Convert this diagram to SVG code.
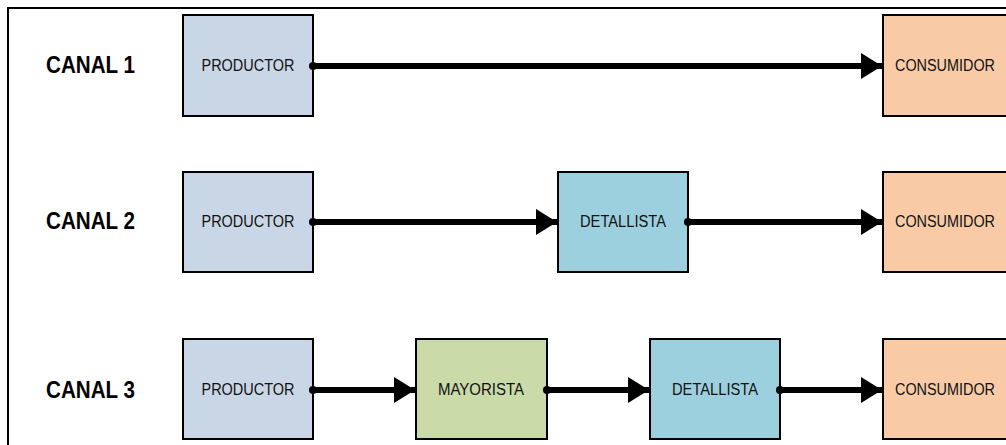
<svg xmlns="http://www.w3.org/2000/svg" width="1006" height="445" viewBox="0 0 1006 445">
<defs>
<style>
.box{stroke:#000;stroke-width:2}
.prod{fill:#c9d6e5}
.det{fill:#9dd0de}
.may{fill:#cbdaa9}
.con{fill:#f8cba6}
.lbl{font-family:"Liberation Sans",Arial,sans-serif;font-size:16px;fill:#111;text-anchor:middle}
.canal{font-family:"Liberation Sans",Arial,sans-serif;font-size:23px;font-weight:bold;fill:#000}
.conn{stroke:#000;stroke-width:6;fill:none}
</style>
<marker id="ah" markerUnits="userSpaceOnUse" markerWidth="22" markerHeight="26" refX="21" refY="13" orient="auto">
<path d="M0,0 L21,13 L0,26 Z" fill="#000"/>
</marker>
<marker id="dot" markerUnits="userSpaceOnUse" markerWidth="10" markerHeight="10" refX="5" refY="5" orient="auto">
<circle cx="5" cy="5" r="4" fill="#000"/>
</marker>
</defs>
<rect width="1006" height="445" fill="#fff"/>
<path d="M8,445 V8 H1006" fill="none" stroke="#000" stroke-width="2"/>
<g id="canal1"><text class="canal" x="46" y="73" textLength="89" lengthAdjust="spacingAndGlyphs">CANAL 1</text></g>
<g id="canal2"><text class="canal" x="46" y="229" textLength="89" lengthAdjust="spacingAndGlyphs">CANAL 2</text></g>
<g id="canal3"><text class="canal" x="46" y="398" textLength="89" lengthAdjust="spacingAndGlyphs">CANAL 3</text></g>

<g id="prod1"><rect class="box prod" x="183" y="15" width="130" height="101"/><text class="lbl" x="248" y="71" textLength="93" lengthAdjust="spacingAndGlyphs">PRODUCTOR</text></g>
<g id="cons1"><rect class="box con" x="883" y="15" width="130" height="101"/><text class="lbl" x="945" y="71" textLength="100" lengthAdjust="spacingAndGlyphs">CONSUMIDOR</text></g>

<g id="prod2"><rect class="box prod" x="183" y="172" width="130" height="100"/><text class="lbl" x="248" y="227" textLength="93" lengthAdjust="spacingAndGlyphs">PRODUCTOR</text></g>
<g id="det2"><rect class="box det" x="558" y="172" width="130" height="100"/><text class="lbl" x="623" y="227" textLength="86" lengthAdjust="spacingAndGlyphs">DETALLISTA</text></g>
<g id="cons2"><rect class="box con" x="883" y="172" width="130" height="100"/><text class="lbl" x="945" y="227" textLength="100" lengthAdjust="spacingAndGlyphs">CONSUMIDOR</text></g>

<g id="prod3"><rect class="box prod" x="183" y="339" width="130" height="100"/><text class="lbl" x="248" y="395" textLength="93" lengthAdjust="spacingAndGlyphs">PRODUCTOR</text></g>
<g id="may3"><rect class="box may" x="416" y="339" width="131" height="100"/><text class="lbl" x="481" y="395" textLength="86" lengthAdjust="spacingAndGlyphs">MAYORISTA</text></g>
<g id="det3"><rect class="box det" x="650" y="339" width="130" height="100"/><text class="lbl" x="715" y="395" textLength="86" lengthAdjust="spacingAndGlyphs">DETALLISTA</text></g>
<g id="cons3"><rect class="box con" x="883" y="339" width="130" height="100"/><text class="lbl" x="945" y="395" textLength="100" lengthAdjust="spacingAndGlyphs">CONSUMIDOR</text></g>

<g id="connectors">
<path class="conn" d="M313,66 H882" marker-start="url(#dot)" marker-end="url(#ah)"/>
<path class="conn" d="M313,222 H557" marker-start="url(#dot)" marker-end="url(#ah)"/>
<path class="conn" d="M688,222 H882" marker-start="url(#dot)" marker-end="url(#ah)"/>
<path class="conn" d="M313,390 H415" marker-start="url(#dot)" marker-end="url(#ah)"/>
<path class="conn" d="M547,390 H649" marker-start="url(#dot)" marker-end="url(#ah)"/>
<path class="conn" d="M780,390 H882" marker-start="url(#dot)" marker-end="url(#ah)"/>
</g>
</svg>
